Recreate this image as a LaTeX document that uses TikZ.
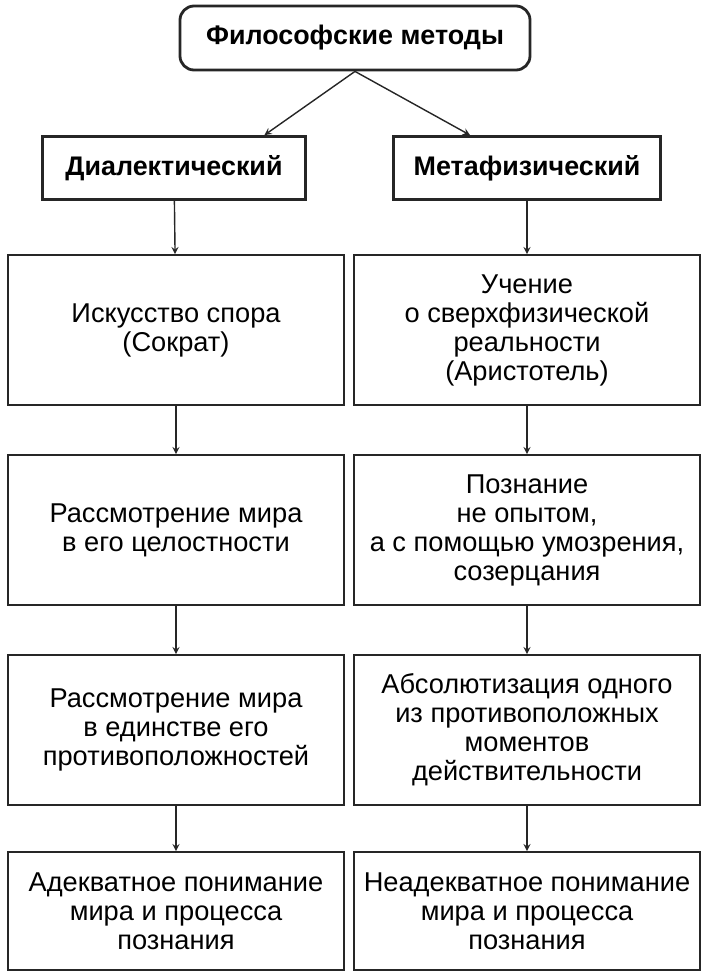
\documentclass[tikz,border=0pt]{standalone}
\usepackage{fontspec}
\setmainfont{Liberation Sans}
\begin{document}
\begin{tikzpicture}[x=0.02cm,y=-0.02cm]
    \tikzset{
        headbox/.style={draw=black!85, line width=1.6pt, font=\fontsize{15.3}{18}\selectfont\bfseries, minimum height=63*0.02cm, inner sep=0pt},
        stepbox/.style={draw=black!85, line width=1pt, align=center, font=\fontsize{15.5}{16.5}\selectfont, minimum width=336*0.02cm, minimum height=150*0.02cm, inner sep=0pt},
        varrow/.style={-stealth, line width=0.8pt, black!85}
    }
    \useasboundingbox (0,0) rectangle (712,978);
    % Верхний блок
    \node[headbox, rounded corners=8pt, minimum width=350*0.02cm, minimum height=64*0.02cm] (top) at (355,38) {Философские методы};
    \node[headbox, minimum width=263*0.02cm] (dial) at (174,168) {Диалектический};
    \node[headbox, minimum width=267*0.02cm] (meta) at (527,168) {Метафизический};
    \draw[varrow] (top.south) -- (dial.20);
    \draw[varrow] (top.south) -- (meta.150);
    % Левая колонка
    \node[stepbox] (d1) at (176,330) {Искусство спора\\(Сократ)};
    \node[stepbox] (d2) at (176,530) {Рассмотрение мира\\в его целостности};
    \node[stepbox] (d3) at (176,730) {Рассмотрение мира\\в единстве его\\противоположностей};
    \node[stepbox, minimum height=118*0.02cm] (d4) at (176,911) {Адекватное понимание\\мира и процесса\\познания};
    % Правая колонка
    \node[stepbox, minimum width=346*0.02cm] (m1) at (527,330) {Учение\\о сверхфизической\\реальности\\(Аристотель)};
    \node[stepbox, minimum width=346*0.02cm] (m2) at (527,530) {Познание\\не опытом,\\а с помощью умозрения,\\созерцания};
    \node[stepbox, minimum width=346*0.02cm] (m3) at (527,730) {Абсолютизация одного\\из противоположных\\моментов\\действительности};
    \node[stepbox, minimum width=346*0.02cm, minimum height=118*0.02cm] (m4) at (527,911) {Неадекватное понимание\\мира и процесса\\познания};
    % Стрелки
    \draw[varrow] (dial) -- (d1);
    \draw[varrow] (d1) -- (d2);
    \draw[varrow] (d2) -- (d3);
    \draw[varrow] (d3) -- (d4);
    \draw[varrow] (meta) -- (m1);
    \draw[varrow] (m1) -- (m2);
    \draw[varrow] (m2) -- (m3);
    \draw[varrow] (m3) -- (m4);
\end{tikzpicture}
\end{document}
